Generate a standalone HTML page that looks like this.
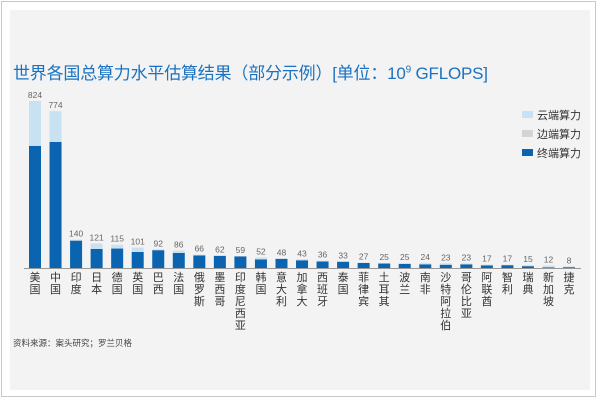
<!DOCTYPE html>
<html><head><meta charset="utf-8">
<style>
body{margin:0;width:600px;height:400px;background:#fff;overflow:hidden;font-family:"Liberation Sans","Noto Sans CJK SC",sans-serif}
#frame{position:absolute;left:1px;top:1px;width:595px;height:396px;border:1px solid #c8c8c8;box-sizing:border-box}
#panel{position:absolute;left:10px;top:10px;width:580px;height:380px;background:#f3f3f3}
#title{position:absolute;left:13px;top:59px;font-size:17px;color:#1a72c0;white-space:nowrap;letter-spacing:-0.2px}
#title sup{font-size:10px}
#src{position:absolute;left:13px;top:337px;font-size:8.5px;color:#444}
svg{position:absolute;left:0;top:0}
</style></head><body>
<div id="frame"></div>
<div id="panel"></div>
<div id="title">世界各国总算力水平估算结果（部分示例）[单位：10<sup>9</sup> GFLOPS]</div>
<div id="src">资料来源：案头研究；罗兰贝格</div>
<svg id="chart" width="600" height="400"></svg>
<script>
const categories=["美国","中国","印度","日本","德国","英国","巴西","法国","俄罗斯","墨西哥","印度尼西亚","韩国","意大利","加拿大","西班牙","泰国","菲律宾","土耳其","波兰","南非","沙特阿拉伯","哥伦比亚","阿联酋","智利","瑞典","新加坡","捷克"];
const totals=[824,774,140,121,115,101,92,86,66,62,59,52,48,43,36,33,27,25,25,24,23,23,17,17,15,12,8];
const terminal=[602,622,135,94,96,79,88,74,62,60,57,42,45,38,32,31,25,22,20,18,16,18,13,14,9,3,4];
const edge=[4,4,2,2,2,2,1,2,1,1,1,2,1,1,1,1,1,1,1,1,1,1,1,1,1,1,1];
const seriesNames=["云端算力","边端算力","终端算力"];
const colors=["#c9e2f2","#d4d4d4","#0b64b0"];
const svg=document.getElementById('chart');
const NS="http://www.w3.org/2000/svg";
const base=268,scale=167/824,x0=35,step=20.54,bw=12;
const y=v=>base-v*scale;
const xc=i=>x0+i*step;
function mk(t,a){const e=document.createElementNS(NS,t);for(const k in a)e.setAttribute(k,a[k]);svg.appendChild(e);return e;}
categories.forEach((c,i)=>{
  const cloud=totals[i]-terminal[i]-edge[i];
  const segs=[[terminal[i],2],[edge[i],1],[cloud,0]];
  let acc=0;
  segs.forEach(([v,s])=>{
    const r=mk('rect',{x:xc(i)-bw/2,y:y(acc+v),width:bw,height:v*scale,fill:colors[s]});
    
    
    acc+=v;
  });
  const t=mk('text',{x:xc(i),y:y(totals[i])-3,'font-size':8.5,fill:'#666','text-anchor':'middle'});
  t.textContent=totals[i];
  
  
  [...c].forEach((ch,k)=>{
    const l=mk('text',{x:xc(i),y:base+13+k*12,'font-size':11,fill:'#333','text-anchor':'middle'});
    l.textContent=ch;
    
    
  });
});
const ax=mk('line',{x1:24,x2:581,y1:base+0.5,y2:base+0.5,stroke:'#999','stroke-width':1});


seriesNames.forEach((n,i)=>{
  const r=mk('rect',{x:522,y:111+i*19,width:11,height:7,fill:colors[i]});
  
  
  const t=mk('text',{x:537,y:119+i*19,'font-size':11,fill:'#333'});
  t.textContent=n;
  
  
});
</script>
</body></html>
